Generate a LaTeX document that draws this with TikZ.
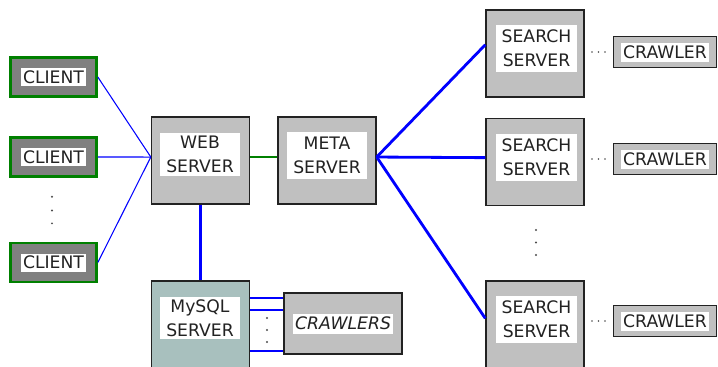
\documentclass[tikz,border=0pt]{standalone}
\usepackage{fontspec}
\setmainfont{DejaVu Sans}
\usepackage{xcolor}
\usetikzlibrary{calc}

\definecolor{boxgray}{RGB}{192,192,192}
\definecolor{clientgray}{RGB}{128,128,128}
\definecolor{dbteal}{RGB}{168,192,190}
\definecolor{linkblue}{RGB}{0,0,255}
\definecolor{linkgreen}{RGB}{0,128,0}
\definecolor{edgeblack}{RGB}{34,34,34}

\begin{document}
\begin{tikzpicture}[
    x=0.02cm, y=-0.02cm,
    font=\fontsize{9.8}{13.6}\selectfont,
    text=edgeblack,
    server/.style={rectangle, draw=edgeblack, line width=0.8pt, fill=boxgray,
      minimum width=1.96cm, minimum height=1.74cm, inner sep=0pt},
    dbserver/.style={server, fill=dbteal},
    client/.style={rectangle, draw=linkgreen, line width=1.5pt, fill=clientgray,
      minimum width=1.72cm, minimum height=0.78cm, inner sep=0pt},
    crawler/.style={rectangle, draw=edgeblack, line width=0.8pt, fill=boxgray,
      minimum width=2.06cm, minimum height=0.62cm, inner sep=0pt},
    tag/.style={rectangle, fill=white, align=center, inner sep=0pt,
      minimum width=1.6cm, minimum height=0.9cm},
    smalltag/.style={rectangle, fill=white, inner sep=1.4pt, minimum height=0.36cm},
    thinlink/.style={draw=linkblue, line width=0.6pt},
    thicklink/.style={draw=linkblue, line width=1.6pt},
    dblink/.style={draw=linkblue, line width=1.1pt},
    greenlink/.style={draw=linkgreen, line width=1.6pt},
    dot/.style={fill=black!70}
  ]
    \useasboundingbox (0,0) rectangle (718,366);

    % clients
    \foreach \i/\y in {1/77,2/157,3/262.5} {
      \node[client] (c\i) at (53.5,\y) {};
      \node[smalltag] (c\i t) at (c\i) {CLIENT};
    }

    % web, meta and database servers
    \node[server] (web) at (200.5,160.5) {};
    \node[tag, minimum height=0.86cm] (webt) at (200,154.5) {WEB\\SERVER};
    \node[server] (meta) at (327,160.5) {};
    \node[tag, minimum height=0.94cm] (metat) at (327,155.5) {META\\SERVER};
    \node[dbserver] (mysql) at (200.5,324.5) {};
    \node[tag, minimum height=0.84cm] (mysqlt) at (200,318) {MySQL\\SERVER};
    \node[crawler, minimum width=2.36cm, minimum height=1.22cm] (crw) at (343,323.5) {};
    \node[smalltag, minimum height=0.4cm] (crwt) at (crw) {\itshape CRAWLERS};

    % search servers and their crawlers
    \foreach \i/\y/\cy in {1/53.5/52,2/162/159,3/324.5/321} {
      \node[server] (s\i) at (535,\y) {};
      \node[tag, minimum width=1.62cm, minimum height=0.94cm] (s\i t) at (536.5,\y-5) {SEARCH\\SERVER};
      \node[crawler] (k\i) at (665,\cy) {};
      \node[smalltag, minimum height=0.38cm] (k\i t) at (k\i) {CRAWLER};
      \foreach \dx in {592,598.5,605} {
        \fill[dot] (\dx,\cy) circle (0.5pt);
      }
    }

    % connections
    \foreach \i in {1,2,3} {
      \draw[thinlink] (c\i.east) -- (web.176);
    }
    \draw[greenlink] (web.4) -- (meta.176);
    \draw[thicklink] (web.south) -- (mysql.north);
    \foreach \i/\a in {1/170,2/175,3/173.6} {
      \draw[thicklink] (meta.4) -- (s\i.\a);
    }
    \foreach \j/\dy in {1/-25.5,2/-13.5,3/27.5} {
      \coordinate (d\j) at ($(crw.west)+(0,\dy)$);
      \draw[dblink] (mysql.east |- d\j) -- (d\j);
    }

    % dots
    \foreach \y in {196.7,210.5,223.3} {
      \fill[dot] (52,\y) circle (0.6pt);
    }
    \foreach \y in {230,242.5,255} {
      \fill[dot] (536,\y) circle (0.6pt);
    }
    \foreach \y in {318,330,342} {
      \fill[dot] (267,\y) circle (0.6pt);
    }
\end{tikzpicture}
\end{document}
